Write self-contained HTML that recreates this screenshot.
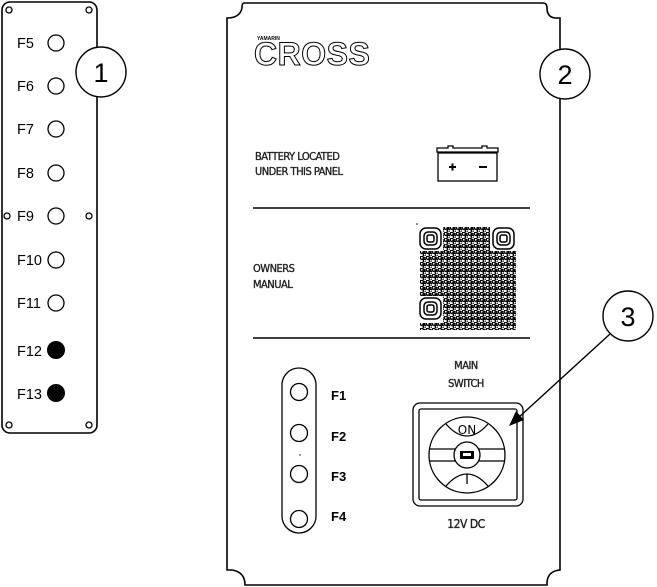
<!DOCTYPE html>
<html><head><meta charset="utf-8"><style>
html,body{margin:0;padding:0;background:#fff;}
svg{display:block;}
.l{font-family:"Liberation Sans",sans-serif;font-size:14.5px;fill:#000;}
.s{font-family:"DejaVu Sans Condensed","Liberation Sans",sans-serif;font-size:11px;fill:#222;stroke:#222;stroke-width:0.35;letter-spacing:-0.5px;}
.b{font-family:"Liberation Sans",sans-serif;font-size:13px;font-weight:bold;fill:#000;}
</style></head><body>
<svg width="657" height="587" viewBox="0 0 657 587" xmlns="http://www.w3.org/2000/svg">
<defs>
<pattern id="qr" x="420" y="226" width="6" height="6" patternUnits="userSpaceOnUse">
<circle cx="1.8" cy="1.8" r="1.6" fill="none" stroke="#000" stroke-width="1.4"/>
<circle cx="4.8" cy="4.8" r="1.6" fill="none" stroke="#000" stroke-width="1.4"/>
<circle cx="4.8" cy="1.8" r="1" fill="#000"/>
</pattern>
</defs>
<!-- left panel -->
<rect x="2" y="2" width="95" height="431" rx="8" fill="none" stroke="#000" stroke-width="1.6"/>
<g fill="none" stroke="#000" stroke-width="1.3">
<circle cx="9" cy="10" r="3"/><circle cx="89" cy="10" r="3"/>
<circle cx="7" cy="216" r="3"/><circle cx="89" cy="216" r="3"/>
<circle cx="9" cy="425" r="3"/><circle cx="89" cy="425" r="3"/>
</g>
<g class="l">
<text x="17" y="48">F5</text><text x="17" y="91">F6</text><text x="17" y="134">F7</text>
<text x="17" y="178">F8</text><text x="17" y="221">F9</text><text x="17" y="265">F10</text>
<text x="17" y="308">F11</text><text x="17" y="356">F12</text><text x="17" y="399">F13</text>
</g>
<g fill="none" stroke="#000" stroke-width="1.3">
<circle cx="56" cy="43" r="8"/><circle cx="56" cy="86" r="8"/><circle cx="56" cy="129" r="8"/>
<circle cx="56" cy="173" r="8"/><circle cx="56" cy="216" r="8"/><circle cx="56" cy="260" r="8"/>
<circle cx="56" cy="303" r="8"/>
</g>
<circle cx="56" cy="350" r="9" fill="#000"/><circle cx="56" cy="393" r="9" fill="#000"/>
<circle cx="101" cy="72" r="25" fill="#fff" stroke="#000" stroke-width="1.4"/>
<text x="101" y="82" text-anchor="middle" style="font-family:'Liberation Sans',sans-serif;font-size:27px">1</text>
<!-- main panel -->
<path d="M244 3 L543 3 Q547 3 547 8 Q547 17 555 18 L560 18 L560 570 Q548 571 547 582 L547 585 L245 585 Q245 572 232 570 L227 570 L227 18 Q240 18 242 8 Q242 3 244 3 Z" fill="none" stroke="#000" stroke-width="1.6"/>
<circle cx="565" cy="74" r="25" fill="#fff" stroke="#000" stroke-width="1.4"/>
<text x="565" y="84" text-anchor="middle" style="font-family:'Liberation Sans',sans-serif;font-size:27px">2</text>
<!-- logo -->
<text x="257" y="40" style="font-family:'Liberation Sans',sans-serif;font-size:5px;font-weight:bold">YAMARIN</text>
<text x="254" y="65" style="font-family:'Liberation Sans',sans-serif;font-size:32px;font-weight:bold;letter-spacing:0.5px" fill="#fff" stroke="#000" stroke-width="1">CROSS</text>
<text class="s" x="255" y="160">BATTERY LOCATED</text>
<text class="s" x="255" y="175">UNDER THIS PANEL</text>
<!-- battery -->
<g fill="none" stroke="#000" stroke-width="1.3">
<path d="M437 152 L437 148 L448 148 L448 146 L453 146 L453 148 L482 148 L482 146 L487 146 L487 148 L498 148 L498 152 Z"/>
<rect x="438" y="153" width="59" height="28"/>
</g>
<path d="M449 167 h7 M452.5 163.5 v7" stroke="#000" stroke-width="2"/>
<path d="M479 167 h8" stroke="#000" stroke-width="2"/>
<line x1="253" y1="208" x2="530" y2="208" stroke="#000" stroke-width="1.5"/>
<line x1="253" y1="338" x2="530" y2="338" stroke="#000" stroke-width="1.5"/>
<text class="s" x="253" y="272">OWNERS</text>
<text class="s" x="253" y="288">MANUAL</text>
<!-- QR -->
<circle cx="417" cy="224" r="0.8" fill="#000"/>
<rect x="420" y="227" width="96" height="103" fill="url(#qr)"/>
<g fill="#fff" stroke="none">
<rect x="418" y="225" width="25" height="26"/><rect x="490" y="225" width="27" height="26"/><rect x="418" y="296" width="25" height="27"/>
</g>
<g fill="none" stroke="#000" stroke-width="1.5">
<rect x="420" y="228" width="21" height="21" rx="6"/><rect x="424" y="232" width="13" height="13" rx="4"/><rect x="427" y="235" width="7" height="7" rx="2"/>
<rect x="493" y="228" width="21" height="21" rx="6"/><rect x="497" y="232" width="13" height="13" rx="4"/><rect x="500" y="235" width="7" height="7" rx="2"/>
<rect x="420" y="298" width="21" height="21" rx="6"/><rect x="424" y="302" width="13" height="13" rx="4"/><rect x="427" y="305" width="7" height="7" rx="2"/>
</g>
<!-- fuses F1-F4 -->
<rect x="282" y="368" width="34" height="165" rx="17" fill="none" stroke="#000" stroke-width="1.3"/>
<g fill="none" stroke="#000" stroke-width="1.3">
<circle cx="299" cy="392" r="8.5"/><circle cx="299" cy="433" r="8.5"/><circle cx="299" cy="474" r="8.5"/><circle cx="299" cy="519" r="8.5"/>
</g>
<circle cx="300" cy="455" r="0.7" fill="#000"/>
<text class="b" x="331" y="400">F1</text><text class="b" x="331" y="441">F2</text>
<text class="b" x="331" y="481">F3</text><text class="b" x="331" y="521">F4</text>
<!-- switch -->
<text class="s" x="466" y="369" text-anchor="middle">MAIN</text>
<text class="s" x="466" y="387" text-anchor="middle">SWITCH</text>
<rect x="413" y="403" width="110" height="103" rx="7" fill="none" stroke="#000" stroke-width="1.3"/>
<rect x="419" y="409" width="98" height="91" rx="2" fill="none" stroke="#000" stroke-width="1.3"/>
<circle cx="467" cy="455" r="38" fill="none" stroke="#000" stroke-width="1.3"/>
<line x1="429" y1="449" x2="505" y2="449" stroke="#000" stroke-width="1.3"/>
<line x1="429" y1="461" x2="505" y2="461" stroke="#000" stroke-width="1.3"/>
<path d="M446 424 Q467 448 488 424" fill="none" stroke="#000" stroke-width="1.3"/>
<path d="M446 486 Q467 462 488 486" fill="none" stroke="#000" stroke-width="1.3"/>
<circle cx="467" cy="455" r="13" fill="#fff" stroke="#000" stroke-width="1.3"/>
<rect x="460" y="451" width="14" height="8" fill="#000"/><rect x="463" y="453" width="8" height="3" fill="#fff"/>
<text x="467" y="434" text-anchor="middle" style="font-family:'DejaVu Sans',sans-serif;font-size:12px">ON</text>
<line x1="467" y1="474" x2="467" y2="484" stroke="#000" stroke-width="1.3"/>
<text class="s" x="466" y="528" text-anchor="middle" style="font-size:12px">12V DC</text>
<!-- callout 3 -->
<line x1="610" y1="334" x2="518" y2="418" stroke="#000" stroke-width="1.4"/>
<path d="M509 426 L516 411 L524 420 Z" fill="#000"/>
<circle cx="628" cy="316" r="25" fill="#fff" stroke="#000" stroke-width="1.4"/>
<text x="628" y="326" text-anchor="middle" style="font-family:'Liberation Sans',sans-serif;font-size:27px">3</text>
</svg>
</body></html>
